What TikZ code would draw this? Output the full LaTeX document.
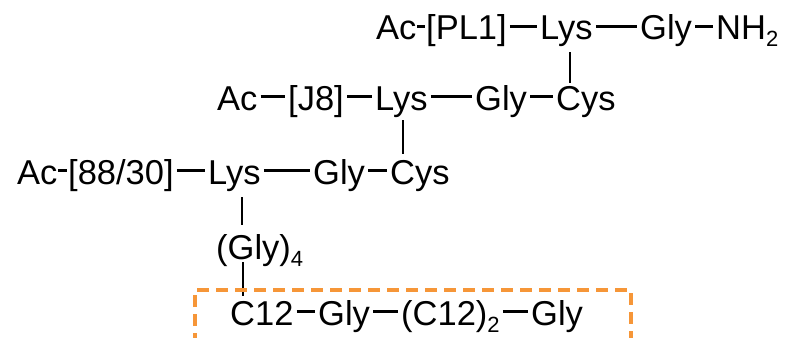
\documentclass[tikz,border=0pt]{standalone}
\usepackage{fontspec}
\setmainfont{Liberation Sans}
\definecolor{frameorange}{RGB}{246,150,56}
\newcommand\sbs[1]{\raisebox{-7pt}{\fontsize{22}{22}\selectfont #1}}
\tikzset{
  tok/.style={anchor=base west, inner sep=0pt, font=\fontsize{34.5}{40}\selectfont},
  bond/.style={line width=2.3pt, shorten <=#1, shorten >=#1},
  bond/.default=3pt,
  vbond/.style={line width=2.4pt},
  frame/.style={draw=frameorange, line width=3.2pt, dash pattern=on 12pt off 7pt}
}
\newcommand\bd[3][3pt]{\draw[bond=#1] ([yshift=13.5pt]#2.base east) -- ([yshift=13.5pt]#3.base west);}
\begin{document}
\begin{tikzpicture}[x=1pt,y=-1pt]
\useasboundingbox (0,0) rectangle (786,337);
% row 1
\node[tok] (ac1)  at (376,40) {Ac};
\node[tok] (pl1)  at (426,40) {[PL1]};
\node[tok] (lys1) at (540,40) {Lys};
\node[tok] (gly1) at (640,40) {Gly};
\node[tok] (nh2)  at (716,40) {NH\sbs{2}};
\bd[0.8pt]{ac1}{pl1}\bd{pl1}{lys1}\bd{lys1}{gly1}\bd{gly1}{nh2}
% row 2
\node[tok] (ac2)  at (217,110) {Ac};
\node[tok] (j8)   at (288,110) {[J8]};
\node[tok] (lys2) at (375,110) {Lys};
\node[tok] (gly2) at (475,110) {Gly};
\node[tok] (cys2) at (556,110) {Cys};
\bd{ac2}{j8}\bd{j8}{lys2}\bd{lys2}{gly2}\bd{gly2}{cys2}
% row 3
\node[tok] (ac3)  at (17,184) {Ac};
\node[tok] (k88)  at (68,184) {[88/30]};
\node[tok] (lys3) at (208,184) {Lys};
\node[tok] (gly3) at (313,184) {Gly};
\node[tok] (cys3) at (390,184) {Cys};
\bd[0.8pt]{ac3}{k88}\bd{k88}{lys3}\bd{lys3}{gly3}\bd{gly3}{cys3}
% linker
\node[tok] (gly4) at (216,259) {(Gly)\sbs{4}};
% row 5
\node[tok] (c12)  at (230,325) {C12};
\node[tok] (gly5) at (318,325) {Gly};
\node[tok] (c122) at (401,325) {(C12)\sbs{2}};
\node[tok] (gly6) at (531,325) {Gly};
\bd{c12}{gly5}\bd{gly5}{c122}\bd{c122}{gly6}
% vertical bonds
\coordinate (v1) at ([xshift=14pt]cys2.north west);
\draw[vbond, shorten <=5pt, shorten >=3pt] (lys1.south -| v1) -- (v1);
\coordinate (v2) at ([xshift=13pt]cys3.north west);
\draw[vbond, shorten <=3pt, shorten >=6pt] (lys2.south -| v2) -- (v2);
\coordinate (v3) at ([xshift=26pt]gly4.north west);
\draw[vbond, shorten <=6pt, shorten >=9pt] (lys3.south -| v3) -- (v3);
\coordinate (v4) at ([xshift=27pt]gly4.base west);
\draw[vbond, shorten <=3pt, shorten >=5pt] (v4) -- (c12.north -| v4);
% dashed frame, open at the bottom
\coordinate (fl) at (195,345);
\coordinate (fr) at (631,345);
\draw[frame] (fl) -- (fl |- 0,290) -- (fr |- 0,290) -- (fr);
\end{tikzpicture}
\end{document}
